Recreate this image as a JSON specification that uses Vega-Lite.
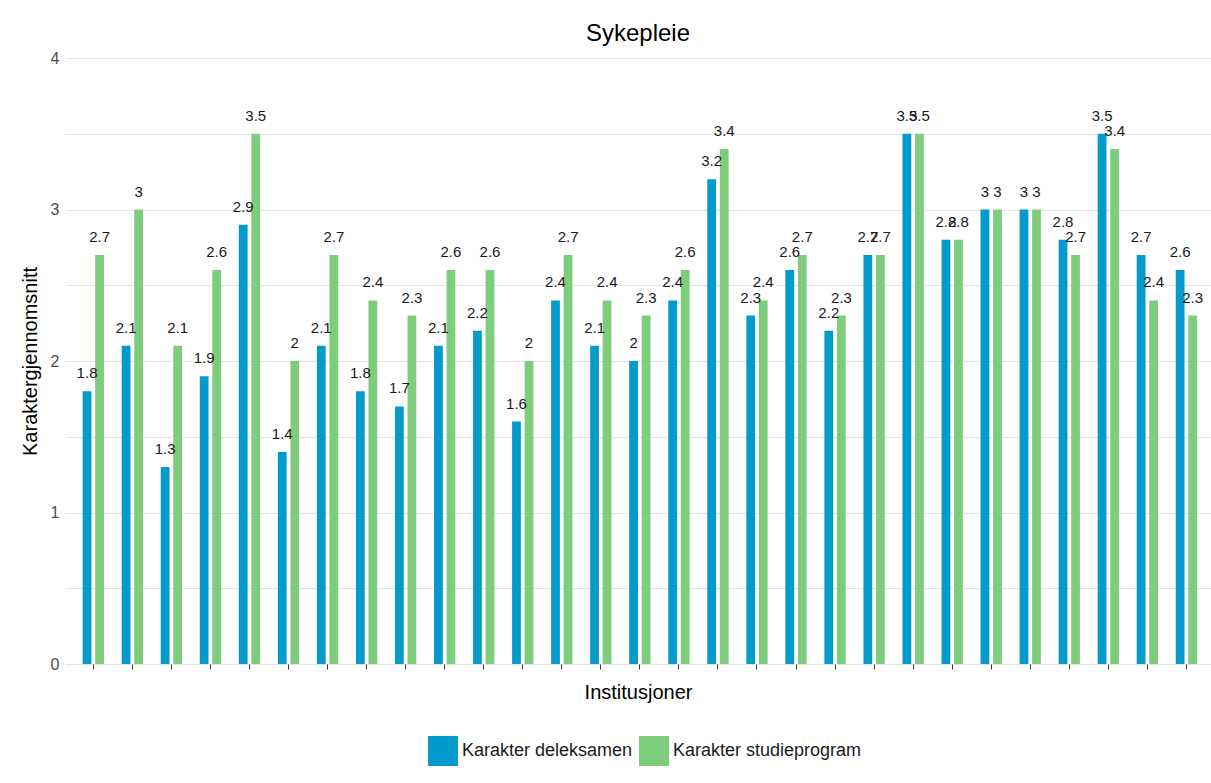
{
  "$schema": "https://vega.github.io/schema/vega-lite/v6.json",
  "autosize": {"type": "none"},
  "padding": {"left": 65, "top": 58, "right": 0, "bottom": 119},
  "width": 1146,
  "height": 606,
  "background": "white",
  "title": {
    "text": "Sykepleie",
    "fontSize": 24,
    "fontWeight": "normal",
    "font": "Liberation Sans",
    "color": "#000000",
    "anchor": "middle",
    "baseline": "alphabetic",
    "offset": -15
  },
  "config": {
    "view": {"stroke": null},
    "font": "Liberation Sans"
  },
  "data": {
    "values": [
      {"inst": "I01", "series": "Karakter deleksamen", "value": 1.8}, {"inst": "I01", "series": "Karakter studieprogram", "value": 2.7},
      {"inst": "I02", "series": "Karakter deleksamen", "value": 2.1}, {"inst": "I02", "series": "Karakter studieprogram", "value": 3.0},
      {"inst": "I03", "series": "Karakter deleksamen", "value": 1.3}, {"inst": "I03", "series": "Karakter studieprogram", "value": 2.1},
      {"inst": "I04", "series": "Karakter deleksamen", "value": 1.9}, {"inst": "I04", "series": "Karakter studieprogram", "value": 2.6},
      {"inst": "I05", "series": "Karakter deleksamen", "value": 2.9}, {"inst": "I05", "series": "Karakter studieprogram", "value": 3.5},
      {"inst": "I06", "series": "Karakter deleksamen", "value": 1.4}, {"inst": "I06", "series": "Karakter studieprogram", "value": 2.0},
      {"inst": "I07", "series": "Karakter deleksamen", "value": 2.1}, {"inst": "I07", "series": "Karakter studieprogram", "value": 2.7},
      {"inst": "I08", "series": "Karakter deleksamen", "value": 1.8}, {"inst": "I08", "series": "Karakter studieprogram", "value": 2.4},
      {"inst": "I09", "series": "Karakter deleksamen", "value": 1.7}, {"inst": "I09", "series": "Karakter studieprogram", "value": 2.3},
      {"inst": "I10", "series": "Karakter deleksamen", "value": 2.1}, {"inst": "I10", "series": "Karakter studieprogram", "value": 2.6},
      {"inst": "I11", "series": "Karakter deleksamen", "value": 2.2}, {"inst": "I11", "series": "Karakter studieprogram", "value": 2.6},
      {"inst": "I12", "series": "Karakter deleksamen", "value": 1.6}, {"inst": "I12", "series": "Karakter studieprogram", "value": 2.0},
      {"inst": "I13", "series": "Karakter deleksamen", "value": 2.4}, {"inst": "I13", "series": "Karakter studieprogram", "value": 2.7},
      {"inst": "I14", "series": "Karakter deleksamen", "value": 2.1}, {"inst": "I14", "series": "Karakter studieprogram", "value": 2.4},
      {"inst": "I15", "series": "Karakter deleksamen", "value": 2.0}, {"inst": "I15", "series": "Karakter studieprogram", "value": 2.3},
      {"inst": "I16", "series": "Karakter deleksamen", "value": 2.4}, {"inst": "I16", "series": "Karakter studieprogram", "value": 2.6},
      {"inst": "I17", "series": "Karakter deleksamen", "value": 3.2}, {"inst": "I17", "series": "Karakter studieprogram", "value": 3.4},
      {"inst": "I18", "series": "Karakter deleksamen", "value": 2.3}, {"inst": "I18", "series": "Karakter studieprogram", "value": 2.4},
      {"inst": "I19", "series": "Karakter deleksamen", "value": 2.6}, {"inst": "I19", "series": "Karakter studieprogram", "value": 2.7},
      {"inst": "I20", "series": "Karakter deleksamen", "value": 2.2}, {"inst": "I20", "series": "Karakter studieprogram", "value": 2.3},
      {"inst": "I21", "series": "Karakter deleksamen", "value": 2.7}, {"inst": "I21", "series": "Karakter studieprogram", "value": 2.7},
      {"inst": "I22", "series": "Karakter deleksamen", "value": 3.5}, {"inst": "I22", "series": "Karakter studieprogram", "value": 3.5},
      {"inst": "I23", "series": "Karakter deleksamen", "value": 2.8}, {"inst": "I23", "series": "Karakter studieprogram", "value": 2.8},
      {"inst": "I24", "series": "Karakter deleksamen", "value": 3.0}, {"inst": "I24", "series": "Karakter studieprogram", "value": 3.0},
      {"inst": "I25", "series": "Karakter deleksamen", "value": 3.0}, {"inst": "I25", "series": "Karakter studieprogram", "value": 3.0},
      {"inst": "I26", "series": "Karakter deleksamen", "value": 2.8}, {"inst": "I26", "series": "Karakter studieprogram", "value": 2.7},
      {"inst": "I27", "series": "Karakter deleksamen", "value": 3.5}, {"inst": "I27", "series": "Karakter studieprogram", "value": 3.4},
      {"inst": "I28", "series": "Karakter deleksamen", "value": 2.7}, {"inst": "I28", "series": "Karakter studieprogram", "value": 2.4},
      {"inst": "I29", "series": "Karakter deleksamen", "value": 2.6}, {"inst": "I29", "series": "Karakter studieprogram", "value": 2.3}
    ]
  },
  "encoding": {
    "x": {
      "field": "inst",
      "type": "nominal",
      "title": "Institusjoner",
      "scale": {"paddingInner": 0.454, "paddingOuter": 0.4045, "align": 0.559},
      "axis": {
        "labels": false,
        "domain": false,
        "grid": false,
        "ticks": true,
        "tickSize": 5,
        "tickColor": "#333333",
        "tickWidth": 1,
        "titleFont": "Liberation Sans",
        "titleFontSize": 20,
        "titleFontWeight": "normal",
        "titleColor": "#000000",
        "titleBaseline": "alphabetic",
        "titlePadding": 29
      }
    },
    "xOffset": {
      "field": "series",
      "type": "nominal",
      "scale": {"paddingInner": 0.3, "paddingOuter": 0}
    },
    "y": {
      "field": "value",
      "type": "quantitative",
      "title": "Karaktergjennomsnitt",
      "scale": {"domain": [0, 4], "nice": false, "zero": true},
      "axis": {
        "values": [0, 0.5, 1, 1.5, 2, 2.5, 3, 3.5, 4],
        "labelExpr": "datum.value % 1 === 0 ? format(datum.value, 'd') : ''",
        "domain": false,
        "ticks": false,
        "tickSize": 0,
        "labelPadding": 6,
        "labelFontSize": 16,
        "labelColor": "#4d4d4d",
        "labelFont": "Liberation Sans",
        "grid": true,
        "gridColor": "#e3e3e3",
        "gridWidth": 1.2,
        "titleFont": "Liberation Sans",
        "titleFontSize": 20,
        "titleFontWeight": "normal",
        "titleColor": "#000000",
        "titlePadding": 10
      }
    }
  },
  "layer": [
    {
      "mark": {"type": "bar"},
      "encoding": {
        "color": {
          "field": "series",
          "type": "nominal",
          "scale": {"domain": ["Karakter deleksamen", "Karakter studieprogram"], "range": ["#039bcc", "#7ecd7c"]},
          "legend": {
            "title": null,
            "orient": "none",
            "legendX": 363,
            "legendY": 678,
            "direction": "horizontal",
            "symbolType": "square",
            "symbolSize": 900,
            "symbolStrokeWidth": 0,
            "labelFontSize": 18,
            "labelFont": "Liberation Sans",
            "labelColor": "#1a1a1a",
            "labelOffset": 4,
            "labelLimit": 400,
            "columnPadding": 6
          }
        }
      }
    },
    {
      "mark": {"type": "text", "baseline": "alphabetic", "dy": -13, "fontSize": 15, "color": "#1a1a1a", "font": "Liberation Sans"},
      "encoding": {
        "text": {"field": "value", "type": "quantitative"}
      }
    }
  ]
}
